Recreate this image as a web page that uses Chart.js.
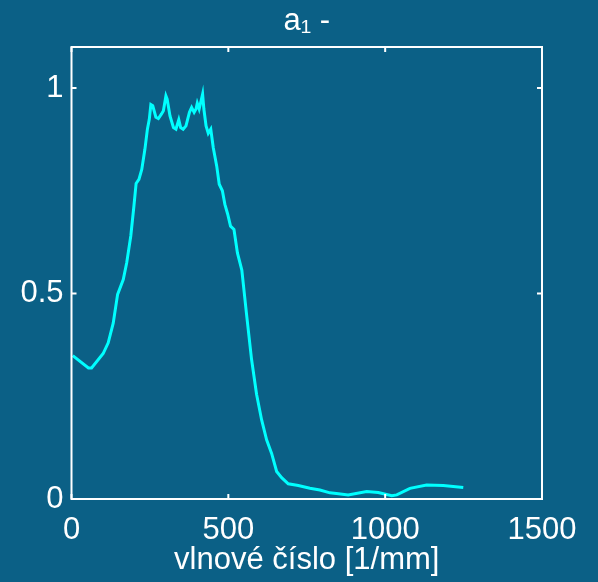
<!DOCTYPE html>
<html><head><meta charset="utf-8">
<script src="https://cdn.jsdelivr.net/npm/chart.js@4/dist/chart.umd.min.js"></script>
<style>html,body{margin:0;padding:0;background:#0b6086;}#wrap{width:598px;height:582px;}canvas{display:block;}</style>
</head><body><div id="wrap"><canvas id="c" width="598" height="582"></canvas></div>
<script>
const wavenumber = [4, 54, 64, 101, 117, 133, 147, 165, 176, 189, 199, 206, 215, 224, 234, 242, 248, 253, 259, 269, 277, 287, 293, 301, 305, 314, 325, 333, 342, 348, 356, 365, 376, 383, 391, 397, 401, 407, 412, 418, 422, 429, 436, 444, 452, 463, 471, 481, 489, 498, 507, 518, 529, 543, 558, 574, 590, 606, 622, 638, 654, 670, 691, 723, 760, 792, 824, 851, 882, 941, 978, 1021, 1037, 1079, 1132, 1185, 1249];
const a1 = [0.349, 0.319, 0.319, 0.354, 0.38, 0.428, 0.498, 0.534, 0.575, 0.64, 0.713, 0.768, 0.778, 0.802, 0.851, 0.9, 0.924, 0.96, 0.957, 0.929, 0.926, 0.937, 0.945, 0.981, 0.973, 0.932, 0.904, 0.9, 0.923, 0.904, 0.9, 0.908, 0.941, 0.953, 0.941, 0.949, 0.963, 0.949, 0.965, 0.985, 0.949, 0.908, 0.89, 0.9, 0.855, 0.81, 0.766, 0.75, 0.717, 0.693, 0.664, 0.656, 0.599, 0.557, 0.45, 0.34, 0.255, 0.193, 0.144, 0.111, 0.067, 0.052, 0.037, 0.033, 0.026, 0.022, 0.015, 0.013, 0.01, 0.018, 0.016, 0.008, 0.01, 0.026, 0.034, 0.033, 0.028];
const xTicks = [0, 500, 1000, 1500];
const yTicks = [0, 0.5, 1];
const titleText = 'a\u2081 -';
const xLabel = 'vlnové číslo [1/mm]';

const FONT = '"Liberation Sans", Arial, Helvetica, sans-serif';

const framePlugin = {
  id: 'frame',
  afterDatasetsDraw(chart) {
    const {ctx, chartArea: a, scales: {x, y}} = chart;
    ctx.save();
    ctx.strokeStyle = '#ffffff';
    ctx.lineWidth = 2;
    ctx.strokeRect(a.left, a.top, a.right - a.left, a.bottom - a.top);
    const L = 5;
    ctx.beginPath();
    xTicks.forEach(v => {
      const p = x.getPixelForValue(v);
      ctx.moveTo(p, a.bottom); ctx.lineTo(p, a.bottom - L);
      ctx.moveTo(p, a.top); ctx.lineTo(p, a.top + L);
    });
    yTicks.forEach(v => {
      const p = y.getPixelForValue(v);
      ctx.moveTo(a.left, p); ctx.lineTo(a.left + L, p);
      ctx.moveTo(a.right, p); ctx.lineTo(a.right - L, p);
    });
    ctx.stroke();
    ctx.restore();
  }
};

new Chart(document.getElementById('c'), {
  type: 'line',
  data: {
    datasets: [{
      data: wavenumber.map((v, i) => ({x: v, y: a1[i]})),
      borderColor: '#00ffff',
      borderWidth: 3,
      pointRadius: 0,
      tension: 0,
      fill: false
    }]
  },
  options: {
    responsive: false,
    animation: false,
    layout: {padding: {left: 0, right: 56, top: 0, bottom: 0}},
    plugins: {
      legend: {display: false},
      tooltip: {enabled: false},
      title: {display: false}
    },
    scales: {
      x: {
        type: 'linear',
        min: 0, max: 1500,
        grid: {display: false, drawTicks: false},
        border: {display: false},
        afterBuildTicks: s => { s.ticks = xTicks.map(v => ({value: v})); },
        afterFit: s => { s.height = 83; },
        ticks: {
          color: '#ffffff',
          padding: 13,
          maxRotation: 0,
          font: {family: FONT, size: 31},
          callback: v => String(v)
        },
        title: {
          display: true,
          text: xLabel,
          color: '#ffffff',
          font: {family: FONT, size: 31, lineHeight: 1.2},
          padding: {top: 0, bottom: 3}
        }
      },
      x2: {
        type: 'linear',
        position: 'top',
        min: 0, max: 1500,
        grid: {display: false, drawTicks: false},
        border: {display: false},
        ticks: {display: false},
        afterFit: s => { s.height = 47; },
        title: {
          display: true,
          text: titleText,
          color: '#ffffff',
          font: {family: FONT, size: 31, lineHeight: 1.2},
          padding: {top: 3, bottom: 0}
        }
      },
      y: {
        type: 'linear',
        min: 0, max: 1.1,
        grid: {display: false, drawTicks: false},
        border: {display: false},
        afterBuildTicks: s => { s.ticks = yTicks.map(v => ({value: v})); },
        afterFit: s => { s.width = 71.5; },
        ticks: {
          color: '#ffffff',
          padding: 8,
          font: {family: FONT, size: 31},
          callback: v => String(v)
        }
      }
    }
  },
  plugins: [framePlugin]
});
</script>
</body></html>
